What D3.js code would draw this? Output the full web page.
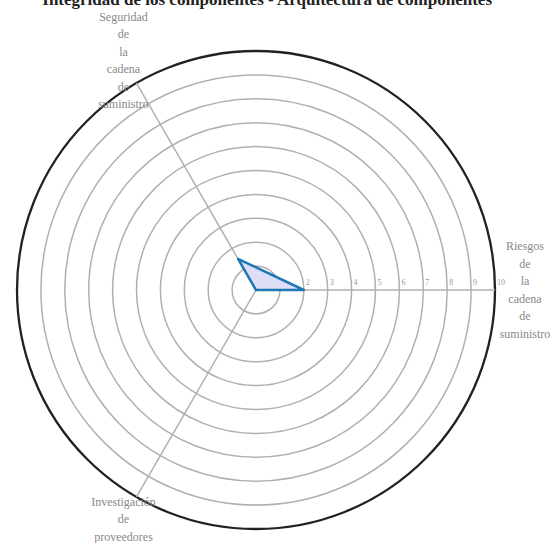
<!DOCTYPE html>
<html><head><meta charset="utf-8">
<script src="https://cdn.jsdelivr.net/npm/d3@7"></script>
<style>
html,body{margin:0;padding:0;background:#fff;overflow:hidden}
</style></head>
<body>
<svg id="chart" width="553" height="543"></svg>
<script>
const title = "Integridad de los componentes - Arquitectura de componentes";
const axes = [
  "Riesgos de la cadena de suministro",
  "Seguridad de la cadena de suministro",
  "Investigación de proveedores"
];
const values = [2, 1.5, 0];
const ticks = [1,2,3,4,5,6,7,8,9,10];
const maxValue = 10;

const svg = d3.select("#chart");
const cx = 256, cy = 290, R = 239;
const r = d3.scaleLinear().domain([0, maxValue]).range([0, R]);
const ang = d3.scaleLinear().domain([0, axes.length]).range([0, 2*Math.PI]);
const pt = (i, v) => [cx + r(v)*Math.cos(ang(i)), cy - r(v)*Math.sin(ang(i))];

const g = svg.append("g");
// rings
g.selectAll("circle.ring").data(ticks).join("circle")
  .attr("cx", cx).attr("cy", cy).attr("r", d => r(d))
  .attr("fill", "none")
  .attr("stroke", d => d === maxValue ? "#222" : "#b0b0b0")
  .attr("stroke-width", d => d === maxValue ? 2.3 : 1.5);

// axes
g.selectAll("line.axis").data(axes).join("line")
  .attr("x1", cx).attr("y1", cy)
  .attr("x2", (d,i) => pt(i, maxValue)[0])
  .attr("y2", (d,i) => pt(i, maxValue)[1])
  .attr("stroke", "#b0b0b0").attr("stroke-width", 1.5);

// tick labels
g.selectAll("text.tick").data(ticks).join("text")
  .attr("x", d => cx + r(d) + 2).attr("y", cy - 5)
  .attr("font-family", "Liberation Serif, serif").attr("font-size", 8)
  .attr("fill", "#999").text(d => d);

// polygon
const line = d3.line().curve(d3.curveLinearClosed);
g.append("path")
  .attr("d", line(values.map((v,i) => pt(i, v))))
  .attr("fill", "#dedef8").attr("stroke", "#1f77b4")
  .attr("stroke-width", 2.5).attr("stroke-linejoin", "round");

// axis labels
const LR = 265, lh = 17.5;
axes.forEach((a, i) => {
  const [x, y] = pt(i, maxValue * LR / R);
  const words = a.split(" ");
  const t = g.append("text")
    .attr("font-family", "Liberation Serif, serif").attr("font-size", 12)
    .attr("fill", "#888").attr("text-anchor", "middle");
  words.forEach((w, k) => {
    t.append("tspan").attr("x", i === 0 ? x + 4 : x)
      .attr("y", y + (k - (words.length-1)/2) * lh + 4).text(w);
  });
});

// title
svg.append("text").attr("x", 492).attr("y", 5)
  .attr("text-anchor", "end")
  .attr("font-family", "Liberation Serif, serif").attr("font-weight", "bold")
  .attr("font-size", 17).attr("fill", "#222").text(title);
</script>
</body></html>
